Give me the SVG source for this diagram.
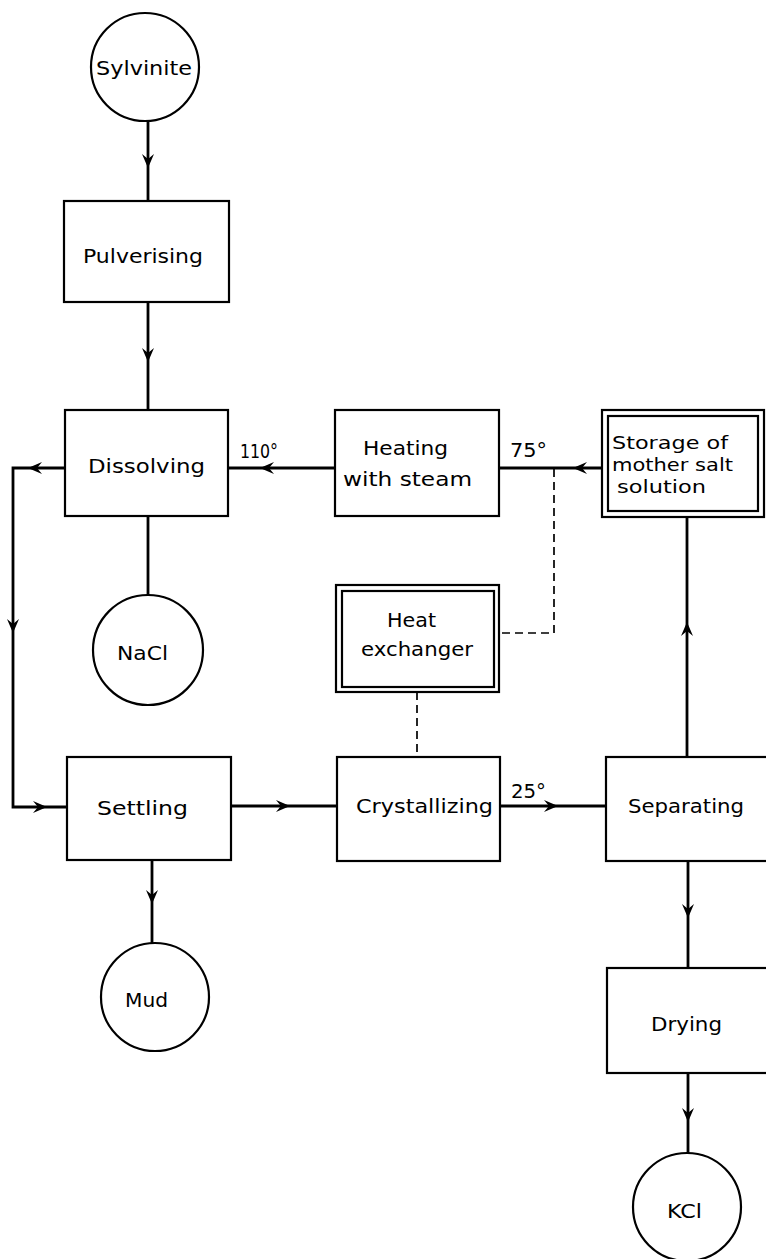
<svg xmlns="http://www.w3.org/2000/svg" xmlns:xlink="http://www.w3.org/1999/xlink" width="766" height="1259" viewBox="0 0 766 1259">
<style>
.box{fill:#fff;stroke:#000;stroke-width:2.2}
.flow{fill:none;stroke:#000;stroke-width:2.8}
.dash{fill:none;stroke:#000;stroke-width:1.7;stroke-dasharray:8 5}
text{font-family:"DejaVu Sans","Liberation Sans",sans-serif;font-size:20px;fill:#000}
text.small{font-size:17px}
</style>
<defs>
<path id="ah" d="M0,0 L-14,-6 L-9,0 L-14,6 Z" fill="#000"/>
</defs>
<rect width="766" height="1259" fill="#fff"/>
<g id="connectors">
<path class="flow" d="M148,121 V201"/>
<path class="flow" d="M148,302 V410"/>
<path class="flow" d="M335,468 H228"/>
<path class="flow" d="M65,468 H13 V807 H67"/>
<path class="flow" d="M148,516 V595"/>
<path class="flow" d="M231,806 H337"/>
<path class="flow" d="M500,806 H606"/>
<path class="flow" d="M152,860 V943"/>
<path class="flow" d="M687,757 V517"/>
<path class="flow" d="M602,468 H499"/>
<path class="flow" d="M688,861 V968"/>
<path class="flow" d="M688,1073 V1153"/>
<path class="dash" d="M554,469 V633 H499"/>
<path class="dash" d="M417,692 V757"/>
<use xlink:href="#ah" transform="translate(148,168) rotate(90)"/>
<use xlink:href="#ah" transform="translate(148,362) rotate(90)"/>
<use xlink:href="#ah" transform="translate(260,468) rotate(180)"/>
<use xlink:href="#ah" transform="translate(28,468) rotate(180)"/>
<use xlink:href="#ah" transform="translate(13,633) rotate(90)"/>
<use xlink:href="#ah" transform="translate(47,807)"/>
<use xlink:href="#ah" transform="translate(290,806)"/>
<use xlink:href="#ah" transform="translate(558,806)"/>
<use xlink:href="#ah" transform="translate(152,904) rotate(90)"/>
<use xlink:href="#ah" transform="translate(687,622) rotate(-90)"/>
<use xlink:href="#ah" transform="translate(573,468) rotate(180)"/>
<use xlink:href="#ah" transform="translate(688,918) rotate(90)"/>
<use xlink:href="#ah" transform="translate(688,1122) rotate(90)"/>
</g>
<g id="labels">
<text x="240" y="458" textLength="38" lengthAdjust="spacingAndGlyphs">110°</text>
<text x="510" y="457" textLength="37" lengthAdjust="spacingAndGlyphs">75°</text>
<text x="511" y="798" textLength="35" lengthAdjust="spacingAndGlyphs">25°</text>
</g>
<g id="sylvinite">
<circle class="box" cx="145" cy="67" r="54"/>
<text x="96" y="75" textLength="96" lengthAdjust="spacingAndGlyphs">Sylvinite</text>
</g>
<g id="pulverising">
<rect class="box" x="64" y="201" width="165" height="101"/>
<text x="83" y="263" textLength="120" lengthAdjust="spacingAndGlyphs">Pulverising</text>
</g>
<g id="dissolving">
<rect class="box" x="65" y="410" width="163" height="106"/>
<text x="88" y="473" textLength="117" lengthAdjust="spacingAndGlyphs">Dissolving</text>
</g>
<g id="heating">
<rect class="box" x="335" y="410" width="164" height="106"/>
<text x="363" y="455" textLength="85" lengthAdjust="spacingAndGlyphs">Heating</text>
<text x="343" y="486" textLength="129" lengthAdjust="spacingAndGlyphs">with steam</text>
</g>
<g id="storage">
<rect class="box" x="602" y="410" width="162" height="107"/>
<rect class="box" x="608" y="416" width="150" height="95"/>
<text class="small" x="612" y="449" textLength="116" lengthAdjust="spacingAndGlyphs">Storage of</text>
<text class="small" x="612" y="471" textLength="121" lengthAdjust="spacingAndGlyphs">mother salt</text>
<text class="small" x="617" y="493" textLength="89" lengthAdjust="spacingAndGlyphs">solution</text>
</g>
<g id="nacl">
<circle class="box" cx="148" cy="650" r="55"/>
<text x="117" y="660" textLength="51" lengthAdjust="spacingAndGlyphs">NaCl</text>
</g>
<g id="heat-exchanger">
<rect class="box" x="336" y="585" width="163" height="107"/>
<rect class="box" x="342" y="591" width="152" height="96"/>
<text x="387" y="627" textLength="49" lengthAdjust="spacingAndGlyphs">Heat</text>
<text x="361" y="656" textLength="112" lengthAdjust="spacingAndGlyphs">exchanger</text>
</g>
<g id="settling">
<rect class="box" x="67" y="757" width="164" height="103"/>
<text x="97" y="815" textLength="91" lengthAdjust="spacingAndGlyphs">Settling</text>
</g>
<g id="crystallizing">
<rect class="box" x="337" y="757" width="163" height="104"/>
<text x="356" y="813" textLength="137" lengthAdjust="spacingAndGlyphs">Crystallizing</text>
</g>
<g id="separating">
<rect class="box" x="606" y="757" width="170" height="104"/>
<text x="628" y="813" textLength="116" lengthAdjust="spacingAndGlyphs">Separating</text>
</g>
<g id="mud">
<circle class="box" cx="155" cy="997" r="54"/>
<text x="125" y="1007" textLength="43" lengthAdjust="spacingAndGlyphs">Mud</text>
</g>
<g id="drying">
<rect class="box" x="607" y="968" width="170" height="105"/>
<text x="651" y="1031" textLength="71" lengthAdjust="spacingAndGlyphs">Drying</text>
</g>
<g id="kcl">
<circle class="box" cx="687" cy="1207" r="54"/>
<text x="667" y="1218" textLength="35" lengthAdjust="spacingAndGlyphs">KCl</text>
</g>
</svg>
